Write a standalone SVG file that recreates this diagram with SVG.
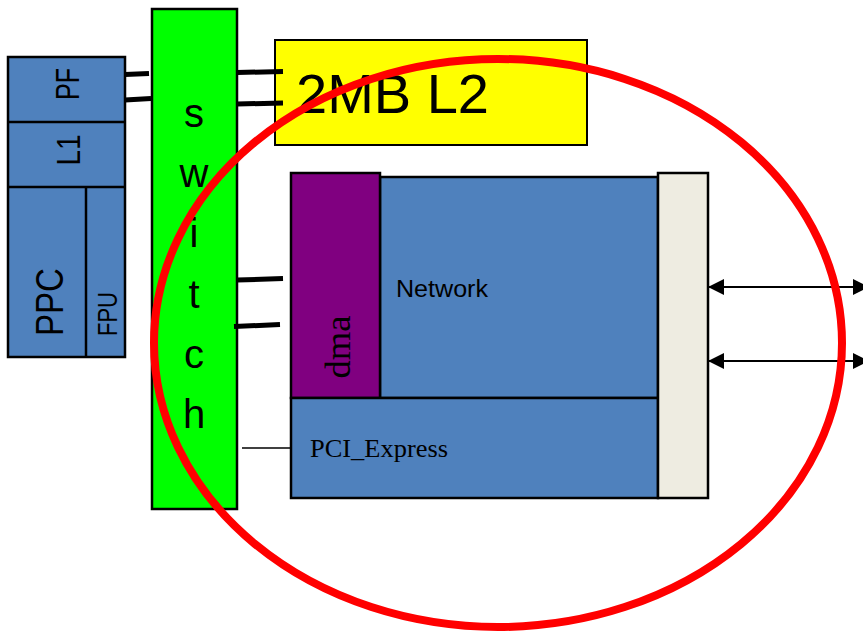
<svg xmlns="http://www.w3.org/2000/svg" width="863" height="631" viewBox="0 0 863 631">
<style>
.box{stroke:#000;stroke-width:2.5}
.blue{fill:#4F81BD}
.sans{font-family:"Liberation Sans",Arial,sans-serif;fill:#000}
.serif{font-family:"Liberation Serif","Times New Roman",serif;fill:#000}
.bus{stroke:#000;stroke-width:5;fill:none}
.thin{stroke:#000;stroke-width:1.5;fill:none}
.arrow{stroke:#000;stroke-width:2.2;fill:none;marker-start:url(#ah);marker-end:url(#ah)}
</style>
<defs>
<marker id="ah" viewBox="0 0 16 16" refX="15" refY="8" markerWidth="16" markerHeight="16" markerUnits="userSpaceOnUse" orient="auto-start-reverse">
<path d="M0,0 L16,8 L0,16 Z" fill="#000"/>
</marker>
</defs>
<rect width="863" height="631" fill="#fff"/>

<g id="ppc-block">
<rect class="box blue" x="8" y="57" width="117" height="300"/>
<line class="thin" x1="8" y1="122" x2="125" y2="122" style="stroke-width:2.5"/>
<line class="thin" x1="8" y1="187" x2="125" y2="187" style="stroke-width:2.5"/>
<line class="thin" x1="86" y1="187" x2="86" y2="357" style="stroke-width:2.5"/>
<text class="sans" transform="translate(79,84) rotate(-90)" text-anchor="middle" font-size="33" textLength="32" lengthAdjust="spacingAndGlyphs">PF</text>
<text class="sans" transform="translate(80,150) rotate(-90)" text-anchor="middle" font-size="33" textLength="31" lengthAdjust="spacingAndGlyphs">L1</text>
<text class="sans" transform="translate(63,302) rotate(-90)" text-anchor="middle" font-size="39" textLength="68" lengthAdjust="spacingAndGlyphs">PPC</text>
<text class="sans" transform="translate(117,314) rotate(-90)" text-anchor="middle" font-size="27" textLength="44" lengthAdjust="spacingAndGlyphs">FPU</text>
</g>

<g id="switch">
<rect class="box" x="152" y="9" width="85" height="500" fill="#00FF00"/>
<g class="sans" font-size="40" text-anchor="middle">
<text x="194" y="127">s</text>
<text x="194" y="187">w</text>
<text x="194" y="247">i</text>
<text x="194" y="308">t</text>
<text x="194" y="368">c</text>
<text x="194" y="428">h</text>
</g>
</g>

<g id="l2">
<rect class="box" x="275" y="40" width="312" height="105" fill="#FFFF00" style="stroke-width:2"/>
<text class="sans" x="296" y="113" font-size="56">2MB L2</text>
</g>

<g id="network">
<rect class="box blue" x="380" y="177" width="278" height="221"/>
<text class="sans" x="396" y="297" font-size="23" textLength="92" lengthAdjust="spacingAndGlyphs">Network</text>
</g>

<g id="dma">
<rect class="box" x="291" y="173" width="89" height="225" fill="#800080"/>
<text class="serif" transform="translate(350,347) rotate(-90)" text-anchor="middle" font-size="36" textLength="63" lengthAdjust="spacingAndGlyphs">dma</text>
</g>

<g id="pci-express">
<rect class="box blue" x="291" y="398" width="367" height="100"/>
<text class="serif" x="310" y="457" font-size="25" textLength="138" lengthAdjust="spacingAndGlyphs">PCI_Express</text>
</g>

<g id="phy">
<rect class="box" x="658" y="173" width="50" height="325" fill="#EEECE1"/>
</g>

<g id="connectors">
<line class="bus" x1="125" y1="74.5" x2="149" y2="73.5"/>
<line class="bus" x1="125" y1="100" x2="151" y2="98.5"/>
<line class="bus" x1="237" y1="72.5" x2="283" y2="71.5"/>
<line class="bus" x1="237" y1="104" x2="283" y2="103"/>
<line class="bus" x1="237" y1="280" x2="283" y2="278.5"/>
<line class="bus" x1="234" y1="326.5" x2="280" y2="324.5"/>
<line class="thin" x1="242" y1="448" x2="291" y2="448"/>
<line class="arrow" x1="709" y1="287" x2="868" y2="287"/>
<line class="arrow" x1="709" y1="361" x2="868" y2="361"/>
</g>

<g id="highlight">
<ellipse cx="498" cy="343" rx="344" ry="284" fill="none" stroke="#FF0000" stroke-width="8"/>
</g>
</svg>
